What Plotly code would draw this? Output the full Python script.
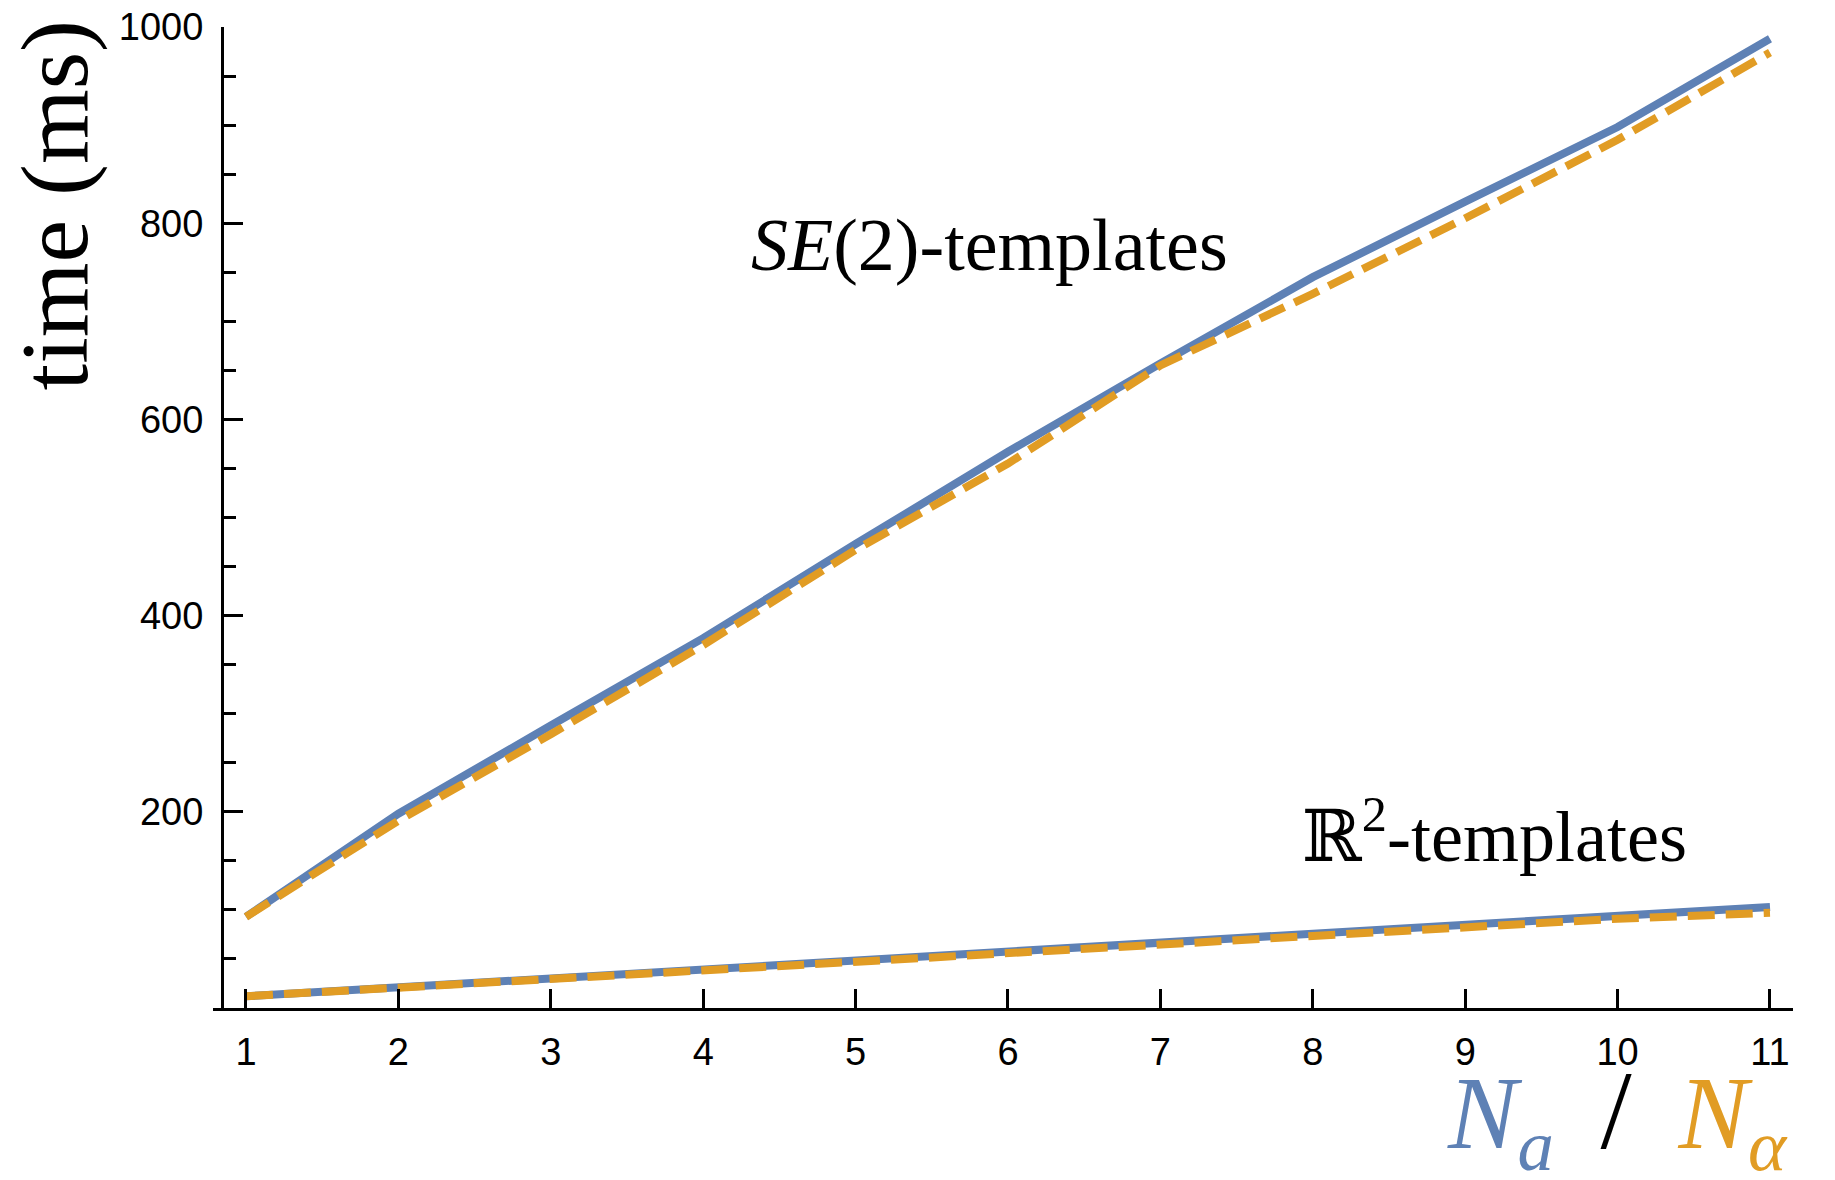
import plotly.graph_objects as go

# dados (tempo em ms)
n_vals = [1, 2, 3, 4, 5, 6, 7, 8, 9, 10, 11]
se2_na = [93, 198, 288, 377, 473, 567, 657, 745, 822, 898, 988]
se2_nalpha = [93, 191, 279, 370, 467, 555, 655, 728, 805, 885, 974]
r2_na = [12, 21, 30, 39, 49, 58, 67, 76, 85, 94, 103]
r2_nalpha = [12, 21, 30, 39, 48, 57, 66, 74, 82, 91, 97]
y_ticks = [200, 400, 600, 800, 1000]

azul = '#5E81B5'
laranja = '#E19C24'

fig = go.Figure()

# linhas cheias (N_a)
for serie in (se2_na, r2_na):
    fig.add_trace(go.Scatter(
        x=n_vals, y=serie, mode='lines',
        line=dict(color=azul, width=8),
        showlegend=False, hoverinfo='skip'
    ))

# linhas tracejadas (N_alpha)
for serie in (se2_nalpha, r2_nalpha):
    fig.add_trace(go.Scatter(
        x=n_vals, y=serie, mode='lines',
        line=dict(color=laranja, width=8, dash='27px,11px'),
        showlegend=False, hoverinfo='skip'
    ))

serif = 'Liberation Serif, DejaVu Serif, serif'

fig.add_annotation(
    text="<i>SE</i>(2)-templates",
    x=5.88, y=778, xref='x', yref='y',
    showarrow=False, xanchor='center', yanchor='middle',
    font=dict(family=serif, size=74, color='black')
)
fig.add_annotation(
    text="ℝ<sup>2</sup>-templates",
    x=9.19, y=180, xref='x', yref='y',
    showarrow=False, xanchor='center', yanchor='middle',
    font=dict(family=serif, size=72, color='black')
)

# título do eixo y
fig.add_annotation(
    text="time (ms)",
    x=-0.1, y=0.818, xref='paper', yref='paper',
    showarrow=False, xanchor='center', yanchor='middle',
    textangle=-90,
    font=dict(family=serif, size=96, color='black')
)

# título do eixo x colorido
fig.add_annotation(
    text=(f"<span style='color:{azul}'><i>N</i><sub><i>a</i></sub></span>"
          f"&nbsp;&#8201;<span style='font-size:112px'>/</span>&#8201;&nbsp;"
          f"<span style='color:{laranja}'><i>N</i><sub><i>α</i></sub></span>"),
    x=0.998, y=-0.111, xref='paper', yref='paper',
    showarrow=False, xanchor='right', yanchor='middle',
    font=dict(family=serif, size=104, color='black')
)

fig.update_layout(
    width=1819, height=1164,
    paper_bgcolor='white', plot_bgcolor='white',
    margin=dict(l=205, r=34, t=19, b=164),
    font=dict(family='Liberation Sans, Arial, sans-serif', size=38, color='black'),
    xaxis=dict(
        range=[0.7835, 11.151],
        tickvals=n_vals,
        ticks='inside', ticklen=19, tickwidth=3, tickcolor='black',
        showline=True, linewidth=3, linecolor='black',
        showgrid=False, zeroline=False, automargin=False,
        ticklabelstandoff=8, ticklabeloverflow='allow',
        tickfont=dict(size=38, color='black')
    ),
    yaxis=dict(
        range=[0, 1000],
        anchor='free', position=0.0057,
        tickvals=y_ticks,
        ticks='inside', ticklen=19, tickwidth=3, tickcolor='black',
        minor=dict(dtick=50, tick0=0, ticks='inside', ticklen=12,
                   tickwidth=3, tickcolor='black', showgrid=False),
        showline=True, linewidth=3, linecolor='black',
        showgrid=False, zeroline=False, automargin=False,
        ticklabelstandoff=10, ticklabeloverflow='allow',
        tickfont=dict(size=38, color='black')
    )
)

fig.write_html("out.html")
